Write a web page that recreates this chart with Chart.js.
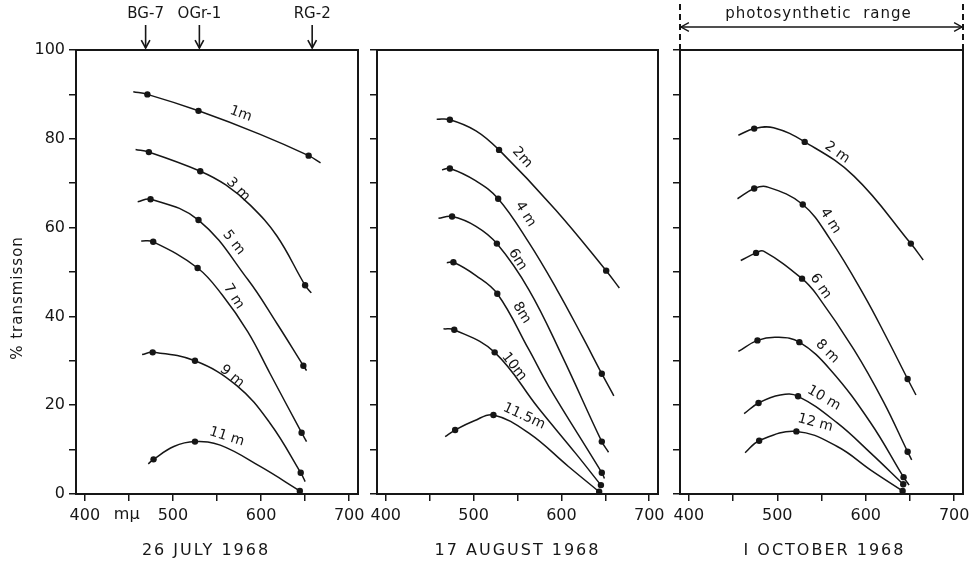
<!DOCTYPE html>
<html><head><meta charset="utf-8">
<script src="https://cdn.jsdelivr.net/npm/chart.js@4/dist/chart.umd.min.js"></script>
<style>
html,body{margin:0;padding:0;background:#fff;}
#wrap{position:relative;width:979px;height:565px;overflow:hidden;background:#fff;}
canvas{position:absolute;top:0;}
</style></head><body>
<div id="wrap">
<canvas id="p1" width="366" height="565" style="left:0px"></canvas>
<canvas id="p2" width="300" height="565" style="left:366px"></canvas>
<canvas id="p3" width="313" height="565" style="left:666px"></canvas>
</div>
<script>
// ---------- axes ----------
const xTickValues = [400, 450, 500, 550, 600, 650, 700];
const xRange = [390, 710];
const yRange = [0, 100];
const yTitle = '% transmisson';
const xUnit = 'mμ';

// ---------- filters (top of first panel) ----------
const filterNames = ['BG-7', 'OGr-1', 'RG-2'];
const filterWavelengths = [469, 530, 658];
const photosyntheticLabel = 'photosynthetic  range';
const photosyntheticRange = [390, 710];

// ---------- 26 JULY 1968 ----------
const julyTitle = '26 JULY 1968';
const julyDepths = ['1m', '3 m', '5 m', '7 m', '9 m', '11 m'];
const julyCurves = [
  [[455,90.6],[471,90.0],[529,86.3],[599,81.0],[654,76.2],[667.5,74.6]],
  [[457.6,77.6],[472.7,77.0],[531,72.7],[560,69.6],[588,65.0],[618,58.1],[650,47.0],[657,45.3]],
  [[460,65.8],[474.6,66.4],[529,61.7],[585,48.3],[618,38.4],[648,28.9],[651.6,27.8]],
  [[464,57.0],[477.6,56.8],[528,50.9],[556,44.8],[585,36.5],[610,27.2],[646,13.8],[651.6,11.8]],
  [[465,31.4],[477,31.9],[525,30.0],[572.5,24.4],[610,16.0],[645,4.8],[650,2.8]],
  [[472,6.8],[478,7.8],[501,10.7],[525,11.8],[553.7,11.0],[599,6.2],[644,0.7]]
];
const julyDots = [
  [[471,90.0],[529,86.3],[654,76.2]],
  [[472.7,77.0],[531,72.7],[650,47.0]],
  [[474.6,66.4],[529,61.7],[648,28.9]],
  [[477.6,56.8],[528,50.9],[646,13.8]],
  [[477,31.9],[525,30.0],[645,4.8]],
  [[478,7.8],[525,11.8],[644,0.7]]
];

// ---------- 17 AUGUST 1968 ----------
const augustTitle = '17 AUGUST 1968';
const augustDepths = ['2m', '4 m', '6m', '8m', '10m', '11.5m'];
const augustCurves = [
  [[458,84.4],[473,84.3],[502.7,81.8],[529,77.5],[593,64.1],[651,50.3],[666,46.4]],
  [[464,73.0],[473,73.3],[502.7,70.5],[528,66.5],[563,56.6],[595,46.0],[623.5,35.6],[646,27.1],[659.7,22.1]],
  [[460,62.1],[475.5,62.5],[502.7,60.3],[526.5,56.4],[563,46.0],[601,31.0],[646,11.8],[653.7,9.4]],
  [[469.5,52.1],[477,52.2],[502.7,49.2],[527,45.1],[563,32.5],[585.7,24.2],[646,4.8],[649,3.5]],
  [[465.7,37.2],[478,37.0],[524,31.9],[574,19.3],[616,9.2],[645,2.0]],
  [[467.6,12.9],[479,14.4],[500.8,16.5],[522.6,17.8],[563,13.7],[608,6.2],[643,0.5]]
];
const augustDots = [
  [[473,84.3],[529,77.5],[651,50.3]],
  [[473,73.3],[528,66.5],[646,27.1]],
  [[475.5,62.5],[526.5,56.4],[646,11.8]],
  [[477,52.2],[527,45.1],[646,4.8]],
  [[478,37.0],[524,31.9],[645,2.0]],
  [[479,14.4],[522.6,17.8],[643,0.5]]
];

// ---------- 1 OCTOBER 1968 ----------
const octoberTitle = 'I OCTOBER 1968';
const octoberDepths = ['2 m', '4 m', '6 m', '8 m', '10 m', '12 m'];
const octoberCurves = [
  [[456,80.8],[473.9,82.3],[495.8,82.5],[531,79.3],[586.7,71.6],[651,56.4],[665,52.7]],
  [[455,66.5],[473.9,68.8],[488,69.2],[528.8,65.2],[560,57.3],[598,44.8],[624.7,34.8],[647.4,25.9],[656.8,22.3]],
  [[458.7,52.6],[476,54.3],[484.5,54.7],[528,48.5],[545,44.8],[586.7,32.5],[620,20.8],[647.4,9.5],[652,7.7]],
  [[456,32.1],[477.6,34.6],[499.7,35.3],[525,34.2],[560,28.0],[605.7,16.0],[642.8,3.8],[649,2.0]],
  [[462.5,18.1],[478.8,20.5],[503.4,22.3],[523.5,22.0],[567.8,16.0],[605.7,9.2],[642.4,2.2]],
  [[463.6,9.3],[479.5,12.0],[521.6,14.1],[567.8,10.7],[605.7,5.4],[641.7,0.7]]
];
const octoberDots = [
  [[473.9,82.3],[531,79.3],[651,56.4]],
  [[473.9,68.8],[528.8,65.2],[647.4,25.9]],
  [[476,54.3],[528,48.5],[647.4,9.5]],
  [[477.6,34.6],[525,34.2],[642.8,3.8]],
  [[478.8,20.5],[523.5,22.0],[642.4,2.2]],
  [[479.5,12.0],[521.6,14.1],[641.7,0.7]]
];

// ---------- label placement (nm, %, rotation deg) ----------
const julyLabelPlacement = [[577,85.6,20],[574,68.6,45],[569,56.6,52],[569,44.5,58],[567,26.5,40],[561,12.9,18]];
const augustLabelPlacement = [[555.5,75.8,48],[559,63.0,58],[550,52.8,58],[554.8,40.8,58],[546,28.7,52],[557.4,17.5,25]];
const octoberLabelPlacement = [[567.8,76.9,35],[560,61.5,58],[549,46.8,55],[556.5,32.1,45],[552.6,21.6,30],[543,16.0,15]];

// ---------- rendering ----------
const INK = '#161616';
const FONT = '"DejaVu Sans", "Liberation Sans", sans-serif';

function toXY(arr){ return arr.map(p => ({x: p[0], y: p[1]})); }

function arrowHead(ctx, x, y, dx, dy, size){
  const ang = Math.atan2(dy, dx);
  ctx.beginPath();
  ctx.moveTo(x - size*Math.cos(ang - 0.5), y - size*Math.sin(ang - 0.5));
  ctx.lineTo(x, y);
  ctx.lineTo(x - size*Math.cos(ang + 0.5), y - size*Math.sin(ang + 0.5));
  ctx.stroke();
}

function decorPlugin(cfg){
  return {
    id: 'decor',
    afterDraw(chart){
      const ctx = chart.ctx, a = chart.chartArea;
      const sx = chart.scales.x, sy = chart.scales.y;
      ctx.save();
      ctx.strokeStyle = INK; ctx.fillStyle = INK; ctx.lineWidth = 2;
      ctx.strokeRect(a.left, a.top, a.right - a.left, a.bottom - a.top);
      ctx.font = '14px ' + FONT; ctx.textAlign = 'center'; ctx.textBaseline = 'middle';
      cfg.labels.forEach((t, i) => {
        const p = cfg.placement[i];
        ctx.save();
        ctx.translate(sx.getPixelForValue(p[0]), sy.getPixelForValue(p[1]));
        ctx.rotate(p[2] * Math.PI / 180);
        ctx.fillText(t, 0, 0);
        ctx.restore();
      });
      ctx.font = '16px ' + FONT;
      ctx.letterSpacing = '2px';
      ctx.fillText(cfg.title, (a.left + a.right) / 2 + cfg.titleShift, 551);
      ctx.letterSpacing = '0px';
      if (cfg.extra) cfg.extra(chart, ctx, a, sx, sy);
      ctx.restore();
    }
  };
}

function makePanel(id, curves, dots, opts){
  const datasets = [];
  curves.forEach(c => datasets.push({
    data: toXY(c), showLine: true, borderColor: INK, borderWidth: 1.5,
    pointRadius: 0, tension: 0.4, fill: false, clip: false
  }));
  dots.forEach(d => datasets.push({
    data: toXY(d), showLine: false, pointRadius: 3.2, pointBackgroundColor: INK,
    pointBorderWidth: 0, backgroundColor: INK, clip: false
  }));
  return new Chart(document.getElementById(id), {
    type: 'scatter',
    data: { datasets },
    options: {
      responsive: false, animation: false, events: [],
      layout: { padding: { top: 50, right: opts.rightPad, left: 0, bottom: 0 } },
      plugins: { legend: { display: false }, tooltip: { enabled: false }, title: { display: false } },
      scales: {
        x: {
          type: 'linear', min: xRange[0], max: xRange[1],
          afterBuildTicks: s => { s.ticks = xTickValues.map(v => ({ value: v })); },
          afterFit: s => { s.height = 71; s.paddingLeft = 0; s.paddingRight = 0; },
          ticks: { callback: v => (v % 100 === 0 ? String(v) : ''), color: INK,
                   font: { size: 16, family: FONT }, padding: 5, maxRotation: 0, autoSkip: false },
          grid: { drawOnChartArea: false, drawTicks: true, tickLength: 7, color: INK, lineWidth: 1.5 },
          border: { display: true, color: INK, width: 2 }
        },
        y: {
          min: yRange[0], max: yRange[1],
          afterFit: s => { s.width = opts.yWidth; s.paddingTop = 0; s.paddingBottom = 0; },
          ticks: { stepSize: 10, callback: v => (opts.yLabels && v % 20 === 0 ? String(v) : ''),
                   color: INK, font: { size: 16, family: FONT }, padding: 4 },
          grid: { drawOnChartArea: false, drawTicks: true, tickLength: 7, color: INK, lineWidth: 1.5 },
          border: { display: true, color: INK, width: 2 }
        }
      }
    },
    plugins: [decorPlugin(opts)]
  });
}

makePanel('p1', julyCurves, julyDots, {
  rightPad: 8, yWidth: 76, yLabels: true, labels: julyDepths, placement: julyLabelPlacement,
  title: julyTitle, titleShift: -11,
  extra(chart, ctx, a, sx, sy){
    ctx.save();
    ctx.font = '15px ' + FONT; ctx.letterSpacing = '1px';
    ctx.translate(18, 298); ctx.rotate(-Math.PI / 2);
    ctx.textAlign = 'center'; ctx.textBaseline = 'middle';
    ctx.fillText(yTitle, 0, 0);
    ctx.restore();
    ctx.font = '16px ' + FONT; ctx.textAlign = 'center'; ctx.textBaseline = 'middle';
    ctx.fillText(xUnit, sx.getPixelForValue(447.5), 515);
    ctx.lineWidth = 1.6;
    filterNames.forEach((n, i) => {
      const x = sx.getPixelForValue(filterWavelengths[i]);
      ctx.font = '15px ' + FONT;
      ctx.fillText(n, x, 14);
      ctx.beginPath(); ctx.moveTo(x, 25); ctx.lineTo(x, a.top - 2); ctx.stroke();
      arrowHead(ctx, x, a.top - 2, 0, 1, 9);
    });
  }
});

makePanel('p2', augustCurves, augustDots, {
  rightPad: 8, yWidth: 11, yLabels: false, labels: augustDepths, placement: augustLabelPlacement,
  title: augustTitle, titleShift: 0
});

makePanel('p3', octoberCurves, octoberDots, {
  rightPad: 16, yWidth: 14, yLabels: false, labels: octoberDepths, placement: octoberLabelPlacement,
  title: octoberTitle, titleShift: 3,
  extra(chart, ctx, a, sx, sy){
    const x0 = sx.getPixelForValue(photosyntheticRange[0]);
    const x1 = sx.getPixelForValue(photosyntheticRange[1]);
    ctx.lineWidth = 2;
    ctx.setLineDash([6, 4]);
    [x0, x1].forEach(x => { ctx.beginPath(); ctx.moveTo(x, 4); ctx.lineTo(x, a.top); ctx.stroke(); });
    ctx.setLineDash([]);
    ctx.lineWidth = 1.4;
    ctx.beginPath(); ctx.moveTo(x0 + 1, 27); ctx.lineTo(x1 - 1, 27); ctx.stroke();
    arrowHead(ctx, x0 + 1, 27, -1, 0, 9);
    arrowHead(ctx, x1 - 1, 27, 1, 0, 9);
    ctx.font = '15px ' + FONT; ctx.textAlign = 'center'; ctx.textBaseline = 'middle';
    ctx.letterSpacing = '1px';
    ctx.fillText(photosyntheticLabel, (x0 + x1) / 2 - 3, 14);
    ctx.letterSpacing = '0px';
  }
});
</script>
</body></html>
